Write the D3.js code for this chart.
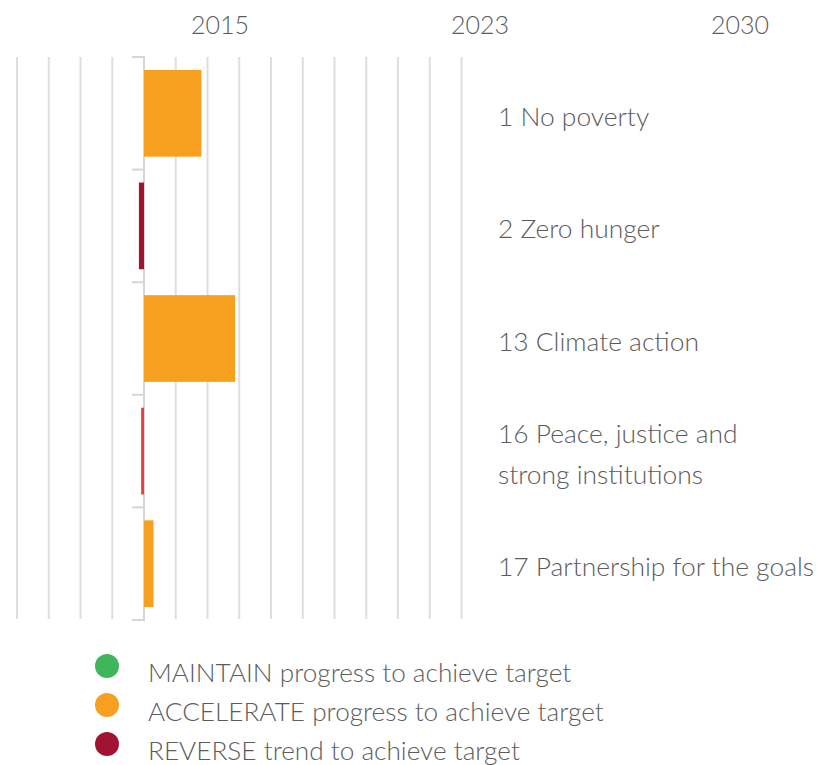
<!DOCTYPE html>
<html>
<head>
<meta charset="utf-8">
<script src="https://cdn.jsdelivr.net/npm/d3@7"></script>
<style>
  html, body { margin: 0; padding: 0; background: #fff; }
  svg { display: block; font-family: Lato, "Open Sans", sans-serif; font-weight: 300; }
</style>
</head>
<body>
<svg id="chart" width="820" height="765"></svg>
<script>
// ---- data ----
const categories = ["1 No poverty", "2 Zero hunger", "13 Climate action", "16 Peace, justice and|strong institutions", "17 Partnership for the goals"];
const values = [1.81, -0.16, 2.87, -0.09, 0.30];
const status = ["accelerate", "reverse", "accelerate", "decline", "accelerate"];
const yearLabels = ["2015", "2023", "2030"];
const gridTicks = [-4, -3, -2, -1, 0, 1, 2, 3, 4, 5, 6, 7, 8, 9, 10];
const legendKeys = ["maintain", "accelerate", "reverse"];
const legendBold = ["MAINTAIN", "ACCELERATE", "REVERSE"];
const legendRest = [" progress to achieve target", " progress to achieve target", " trend to achieve target"];

const colors = { maintain: "#3fb55c", accelerate: "#f79f1f", reverse: "#a11431", decline: "#e93e3e" };

const svg = d3.select("#chart");
const textColor = "#5c5c5c";

const x = d3.scaleLinear().domain([-4, 10]).range([17, 461.5]);
const yBand = d3.scaleBand().domain(d3.range(categories.length)).range([57, 620]).paddingInner(0);
const yBar = d3.scaleBand().domain(d3.range(categories.length)).range([57, 620]).paddingInner(0.23).paddingOuter(0.115);
const yearX = d3.scalePoint().domain(yearLabels).range([220, 740]);

// year labels (top)
svg.append("g").selectAll("text").data(yearLabels).join("text")
  .attr("x", d => yearX(d)).attr("y", 34)
  .attr("text-anchor", "middle")
  .attr("font-size", 25).attr("fill", textColor)
  .text(d => d);

// gridlines
svg.append("g").selectAll("line").data(gridTicks.filter(t => t !== 0)).join("line")
  .attr("x1", d => x(d)).attr("x2", d => x(d))
  .attr("y1", 57).attr("y2", 619)
  .attr("stroke", "#dedede").attr("stroke-width", 2);

// baseline axis with band ticks
const bounds = d3.range(categories.length + 1).map(i => i < categories.length ? yBand(i) : yBand.range()[1]);
svg.append("line")
  .attr("x1", x(0)).attr("x2", x(0)).attr("y1", 57).attr("y2", 621)
  .attr("stroke", "#d6d6d6").attr("stroke-width", 2);
svg.append("g").selectAll("line").data(bounds).join("line")
  .attr("x1", x(0) - 12).attr("x2", x(0) + 1)
  .attr("y1", d => d).attr("y2", d => d)
  .attr("stroke", "#d6d6d6").attr("stroke-width", 2);

// bars
svg.append("g").selectAll("rect").data(values).join("rect")
  .attr("x", d => x(Math.min(0, d)))
  .attr("width", d => Math.abs(x(d) - x(0)))
  .attr("y", (d, i) => yBar(i))
  .attr("height", yBar.bandwidth())
  .attr("fill", (d, i) => colors[status[i]]);

// category labels
const lab = svg.append("g").selectAll("text").data(categories).join("text")
  .attr("font-size", 26.4).attr("fill", textColor)
  .attr("x", 498)
  .attr("transform", (d, i) => `translate(0, ${yBand(i) + yBand.bandwidth() / 2})`);
lab.each(function(d) {
  const lines = d.split("|");
  const t = d3.select(this);
  lines.forEach((ln, j) => {
    t.append("tspan").attr("x", 498)
      .attr("y", (j - (lines.length - 1) / 2) * 41 + 12.5)
      .text(ln);
  });
});

// legend
const lg = svg.append("g").selectAll("g").data(legendKeys).join("g")
  .attr("transform", (d, i) => `translate(0, ${666 + i * 39})`);
lg.append("circle").attr("cx", 107).attr("cy", 0).attr("r", 12)
  .attr("fill", d => colors[d]);
const lt = lg.append("text").attr("x", 148).attr("y", 16)
  .attr("font-size", 26.2).attr("fill", textColor);
lt.append("tspan").text((d, i) => legendBold[i]);
lt.append("tspan").text((d, i) => legendRest[i]);
</script>
</body>
</html>
